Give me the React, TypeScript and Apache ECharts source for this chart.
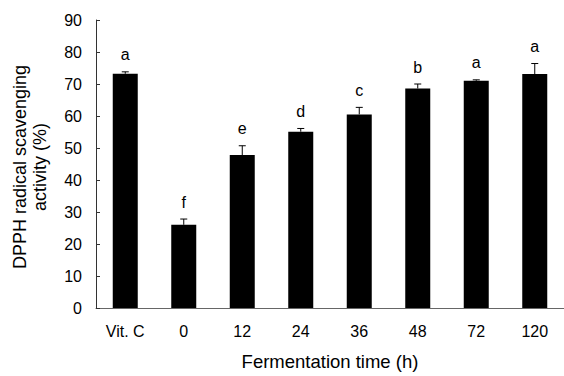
import React, { useEffect, useRef } from "react";
import * as echarts from "echarts";

const categories = ["Vit. C", "0", "12", "24", "36", "48", "72", "120"];
const means = [73.2, 26.0, 47.8, 55.1, 60.5, 68.6, 71.0, 73.1];
const errors = [0.6, 1.8, 2.9, 1.0, 2.2, 1.4, 0.3, 3.3];
const letters = ["a", "f", "e", "d", "c", "b", "a", "a"];
const yTicks = { min: 0, max: 90, interval: 10 };
const yTitleLines = ["DPPH radical scavenging", "activity (%)"];

const FONT = "'Liberation Sans', Arial, sans-serif";

export default function App() {
  const ref = useRef<HTMLDivElement>(null);
  useEffect(() => {
    document.body.style.margin = "0";
    document.body.style.overflow = "hidden";
    if (!ref.current) return;
    const chart = echarts.init(ref.current, null, { renderer: "svg" });
    const errData = categories.map((_, i) => [i, means[i], errors[i]]);
    chart.setOption({
      animation: false,
      backgroundColor: "#fff",
      grid: { left: 96, top: 20, width: 472, height: 294 },
      xAxis: {
        type: "category",
        data: categories,
        axisLine: { lineStyle: { color: "#666", width: 1 } },
        axisTick: { show: false },
        axisLabel: { color: "#000", fontSize: 16, fontFamily: FONT, margin: 15 },
        name: "Fermentation time (h)",
        nameLocation: "middle",
        nameGap: 44,
        nameTextStyle: { color: "#000", fontSize: 18.5, fontFamily: FONT },
      },
      yAxis: {
        type: "value",
        min: yTicks.min,
        max: yTicks.max,
        interval: yTicks.interval,
        axisLine: { show: true, lineStyle: { color: "#333", width: 1 } },
        axisTick: { show: true, inside: true, length: 4, lineStyle: { color: "#333" } },
        splitLine: { show: false },
        axisLabel: { color: "#000", fontSize: 16, fontFamily: FONT, margin: 14 },
      },
      graphic: yTitleLines.map((t, k) => ({
        type: "text",
        x: 20 + k * 20,
        y: 167,
        rotation: Math.PI / 2,
        style: {
          text: t,
          fontSize: 18,
          fontFamily: FONT,
          fill: "#000",
          align: "center",
          verticalAlign: "middle",
        },
      })),
      series: [
        {
          type: "bar",
          data: means,
          barWidth: 25,
          itemStyle: { color: "#000" },
        },
        {
          type: "custom",
          data: errData,
          z: 10,
          renderItem: (params: any, api: any) => {
            const i = api.value(0);
            const m = api.value(1);
            const e = api.value(2);
            const top = api.coord([i, m]);
            const et = api.coord([i, m + e]);
            const x = top[0];
            return {
              type: "group",
              children: [
                {
                  type: "line",
                  shape: { x1: x, y1: top[1], x2: x, y2: et[1] },
                  style: { stroke: "#000", lineWidth: 1 },
                },
                {
                  type: "line",
                  shape: { x1: x - 3.5, y1: et[1], x2: x + 3.5, y2: et[1] },
                  style: { stroke: "#000", lineWidth: 1 },
                },
                {
                  type: "text",
                  x: x,
                  y: et[1] - 9,
                  style: {
                    text: letters[params.dataIndex],
                    fontSize: 16,
                    fontFamily: FONT,
                    fill: "#000",
                    align: "center",
                    verticalAlign: "bottom",
                  },
                },
              ],
            };
          },
        },
      ],
    });
    return () => chart.dispose();
  }, []);
  return (
    <div
      ref={ref}
      style={{ width: 564, height: 376, position: "fixed", left: 0, top: 0, overflow: "hidden" }}
    />
  );
}
